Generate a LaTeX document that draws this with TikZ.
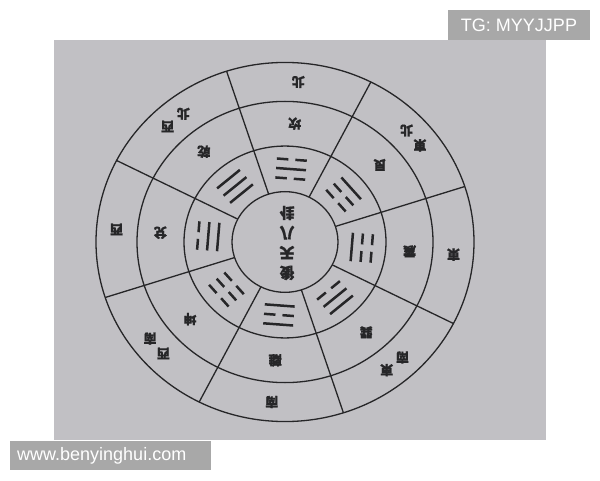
\documentclass[tikz,border=0pt]{standalone}
\usepackage{fontspec}
\setmainfont{Liberation Sans}
\newfontfamily\cjk{Noto Sans CJK TC}[FakeBold=1.2]

\definecolor{paper}{RGB}{193,192,196}
\definecolor{wmark}{RGB}{168,168,168}
\definecolor{ink}{RGB}{38,38,40}

% one yao: radius, 1 = solid, 0 = broken
\newcommand{\yaoline}[2]{%
  \ifnum#2=1 \draw[yao] (#1,-15) -- (#1,15);
  \else \draw[yao] (#1,-15) -- (#1,-3.5) (#1,3.5) -- (#1,15);\fi}
% trigram at an angle, lines from inside out
\newcommand{\trigram}[4]{%
  \begin{scope}[rotate=#1]
    \yaoline{67}{#2}\yaoline{77}{#3}\yaoline{87}{#4}
  \end{scope}}

\begin{document}
\begin{tikzpicture}[x=1pt,y=1pt,
  ring/.style={draw=ink,line width=1.3pt},
  yao/.style={draw=ink,line width=2.5pt},
  gua/.style={font=\cjk\bfseries\fontsize{13}{13}\selectfont,text=ink,rotate=180,inner sep=0pt},
  tag/.style={fill=wmark,text=white,font=\fontsize{18}{18}\selectfont,inner sep=0pt}]
\useasboundingbox (0,0) rectangle (600,480);

\fill[paper] (54,40) rectangle (546,440);

\begin{scope}[shift={(285,238)},yscale=.95]
\draw[ring] (0,0) circle (53);
\draw[ring] (0,0) circle (101);
\draw[ring] (0,0) circle (148);
\draw[ring] (0,0) circle (189);
\foreach \a in {18,63,...,333}
  \draw[ring] (\a:53) -- (\a:189);

% trigrams
\trigram{85.5}{0}{1}{0}
\trigram{40.5}{0}{0}{1}
\trigram{355.5}{1}{0}{0}
\trigram{310.5}{0}{1}{1}
\trigram{265.5}{1}{0}{1}
\trigram{220.5}{0}{0}{0}
\trigram{175.5}{1}{1}{0}
\trigram{130.5}{1}{1}{1}

% inner ring
\node[gua] (kan) at (85.5:125) {坎};
\node[gua] (gen) at (40.5:125) {艮};
\node[gua] (zhen) at (355.5:125) {震};
\node[gua] (xun) at (310.5:125) {巽};
\node[gua] (li) at (265.5:125) {離};
\node[gua] (kun) at (220.5:125) {坤};
\node[gua] (dui) at (175.5:125) {兌};
\node[gua] (qian) at (130.5:125) {乾};

% outer ring
\node[gua] (n) at (85.5:169) {北};
\node[gua] (ne1) at (37:169) {東};
\node[gua] (ne2) at (44:169) {北};
\node[gua] (e) at (355.5:169) {東};
\node[gua] (se1) at (307:169) {東};
\node[gua] (se2) at (314:169) {南};
\node[gua] (s) at (265.5:169) {南};
\node[gua] (sw1) at (224:169) {西};
\node[gua] (sw2) at (217:169) {南};
\node[gua] (w) at (175.5:169) {西};
\node[gua] (nw1) at (134:169) {西};
\node[gua] (nw2) at (127:169) {北};
\end{scope}

\node[gua,font=\cjk\bfseries\fontsize{15}{20}\selectfont,align=center] (title) at (287,237) {後\\天\\八\\卦};

% watermarks
\fill[wmark] (448,440) rectangle (590,470);
\node[tag,anchor=center] (tg) at (519,455) {TG: MYYJJPP};
\fill[wmark] (10,10) rectangle (211,39);
\node[tag,anchor=west] (site) at (17,24.5) {www.benyinghui.com};
\end{tikzpicture}
\end{document}
